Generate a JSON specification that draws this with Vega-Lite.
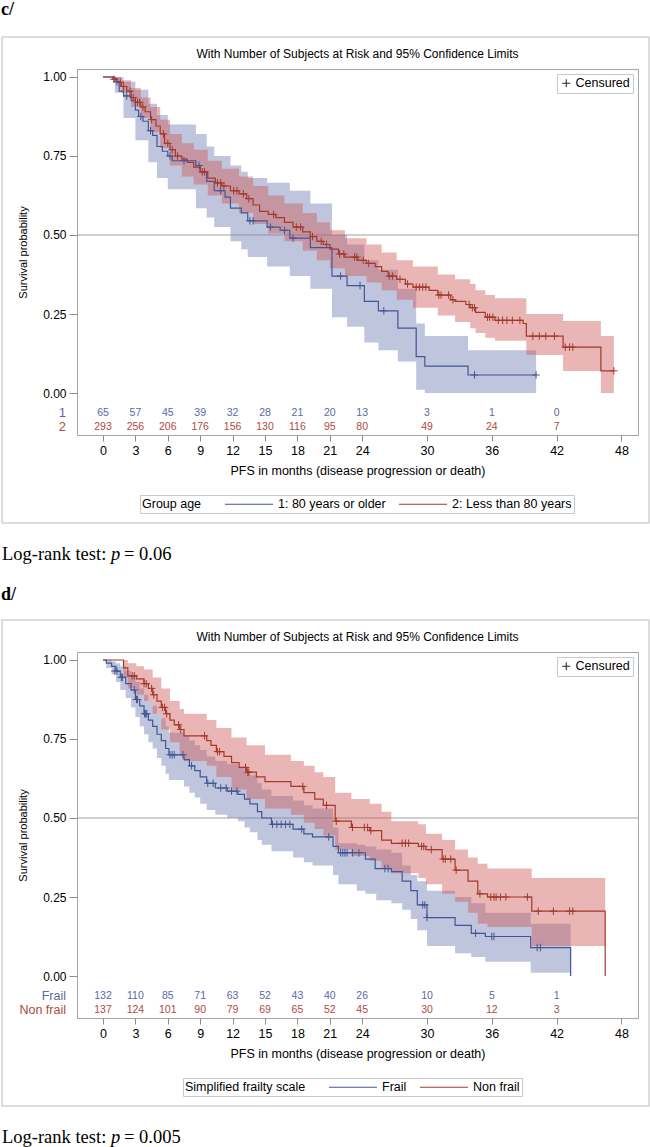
{
"$schema":"https://vega.github.io/schema/vega-lite/v6.json",
"padding":0,
"background":"white",
"config":{"font":"Liberation Sans","view":{"stroke":"#a6a6a6","strokeWidth":1},"axis":{"labelFont":"Liberation Sans","titleFont":"Liberation Sans"},"legend":{"labelFont":"Liberation Sans","titleFont":"Liberation Sans"}},
"spacing":20,
"resolve":{"scale":{"stroke":"independent","shape":"independent"},"legend":{"stroke":"independent","shape":"independent"}},
"datasets":{
"c_km":[
{"g":"1: 80 years or older","t":0,"s":1},{"g":"1: 80 years or older","t":1.1,"s":0.985},{"g":"1: 80 years or older","t":1.5,"s":0.955},{"g":"1: 80 years or older","t":1.9,"s":0.94},{"g":"1: 80 years or older","t":2.6,"s":0.925},{"g":"1: 80 years or older","t":3.0,"s":0.895},{"g":"1: 80 years or older","t":3.3,"s":0.875},{"g":"1: 80 years or older","t":3.7,"s":0.86},{"g":"1: 80 years or older","t":4.2,"s":0.83},{"g":"1: 80 years or older","t":4.6,"s":0.815},{"g":"1: 80 years or older","t":5.0,"s":0.78},{"g":"1: 80 years or older","t":5.5,"s":0.765},{"g":"1: 80 years or older","t":6.0,"s":0.75},{"g":"1: 80 years or older","t":6.4,"s":0.735},{"g":"1: 80 years or older","t":8.6,"s":0.72},{"g":"1: 80 years or older","t":9.0,"s":0.70},{"g":"1: 80 years or older","t":9.6,"s":0.67},{"g":"1: 80 years or older","t":10.3,"s":0.64},{"g":"1: 80 years or older","t":11.3,"s":0.62},{"g":"1: 80 years or older","t":11.8,"s":0.585},{"g":"1: 80 years or older","t":12.8,"s":0.57},{"g":"1: 80 years or older","t":13.4,"s":0.545},{"g":"1: 80 years or older","t":15.2,"s":0.525},{"g":"1: 80 years or older","t":16.4,"s":0.515},{"g":"1: 80 years or older","t":17.3,"s":0.49},{"g":"1: 80 years or older","t":19.2,"s":0.46},{"g":"1: 80 years or older","t":21.2,"s":0.37},{"g":"1: 80 years or older","t":22.6,"s":0.34},{"g":"1: 80 years or older","t":24.2,"s":0.29},{"g":"1: 80 years or older","t":25.5,"s":0.26},{"g":"1: 80 years or older","t":27.3,"s":0.205},{"g":"1: 80 years or older","t":29.0,"s":0.115},{"g":"1: 80 years or older","t":29.8,"s":0.085},{"g":"1: 80 years or older","t":33.8,"s":0.057},{"g":"1: 80 years or older","t":40.1,"s":0.057},
{"g":"2: Less than 80 years","t":0,"s":1},{"g":"2: Less than 80 years","t":0.9,"s":0.993},{"g":"2: Less than 80 years","t":1.3,"s":0.983},{"g":"2: Less than 80 years","t":1.7,"s":0.97},{"g":"2: Less than 80 years","t":2.2,"s":0.955},{"g":"2: Less than 80 years","t":2.6,"s":0.935},{"g":"2: Less than 80 years","t":3.0,"s":0.92},{"g":"2: Less than 80 years","t":3.5,"s":0.905},{"g":"2: Less than 80 years","t":3.9,"s":0.89},{"g":"2: Less than 80 years","t":4.4,"s":0.865},{"g":"2: Less than 80 years","t":4.9,"s":0.845},{"g":"2: Less than 80 years","t":5.3,"s":0.82},{"g":"2: Less than 80 years","t":5.7,"s":0.79},{"g":"2: Less than 80 years","t":6.2,"s":0.77},{"g":"2: Less than 80 years","t":6.7,"s":0.75},{"g":"2: Less than 80 years","t":7.3,"s":0.74},{"g":"2: Less than 80 years","t":7.8,"s":0.73},{"g":"2: Less than 80 years","t":8.4,"s":0.715},{"g":"2: Less than 80 years","t":9.0,"s":0.70},{"g":"2: Less than 80 years","t":9.7,"s":0.68},{"g":"2: Less than 80 years","t":10.4,"s":0.665},{"g":"2: Less than 80 years","t":11.0,"s":0.655},{"g":"2: Less than 80 years","t":11.8,"s":0.64},{"g":"2: Less than 80 years","t":12.6,"s":0.63},{"g":"2: Less than 80 years","t":13.3,"s":0.615},{"g":"2: Less than 80 years","t":13.9,"s":0.595},{"g":"2: Less than 80 years","t":14.5,"s":0.575},{"g":"2: Less than 80 years","t":15.3,"s":0.565},{"g":"2: Less than 80 years","t":16.0,"s":0.555},{"g":"2: Less than 80 years","t":16.8,"s":0.54},{"g":"2: Less than 80 years","t":17.6,"s":0.525},{"g":"2: Less than 80 years","t":18.5,"s":0.51},{"g":"2: Less than 80 years","t":19.2,"s":0.495},{"g":"2: Less than 80 years","t":19.8,"s":0.48},{"g":"2: Less than 80 years","t":20.4,"s":0.47},{"g":"2: Less than 80 years","t":21.0,"s":0.455},{"g":"2: Less than 80 years","t":21.8,"s":0.44},{"g":"2: Less than 80 years","t":22.4,"s":0.43},{"g":"2: Less than 80 years","t":23.6,"s":0.42},{"g":"2: Less than 80 years","t":24.4,"s":0.41},{"g":"2: Less than 80 years","t":25.2,"s":0.40},{"g":"2: Less than 80 years","t":25.8,"s":0.385},{"g":"2: Less than 80 years","t":26.4,"s":0.37},{"g":"2: Less than 80 years","t":27.2,"s":0.36},{"g":"2: Less than 80 years","t":28.0,"s":0.345},{"g":"2: Less than 80 years","t":28.7,"s":0.335},{"g":"2: Less than 80 years","t":30.2,"s":0.325},{"g":"2: Less than 80 years","t":31.0,"s":0.31},{"g":"2: Less than 80 years","t":32.2,"s":0.295},{"g":"2: Less than 80 years","t":32.6,"s":0.29},{"g":"2: Less than 80 years","t":33.6,"s":0.28},{"g":"2: Less than 80 years","t":34.0,"s":0.27},{"g":"2: Less than 80 years","t":34.5,"s":0.255},{"g":"2: Less than 80 years","t":35.4,"s":0.24},{"g":"2: Less than 80 years","t":36.3,"s":0.23},{"g":"2: Less than 80 years","t":38.9,"s":0.22},{"g":"2: Less than 80 years","t":39.2,"s":0.18},{"g":"2: Less than 80 years","t":42.6,"s":0.145},{"g":"2: Less than 80 years","t":46.1,"s":0.07},{"g":"2: Less than 80 years","t":47.3,"s":0.07}
],
"c_band":[
{"g":"1: 80 years or older","t":0,"lo":1,"hi":1},{"g":"1: 80 years or older","t":1.1,"lo":0.95,"hi":1},{"g":"1: 80 years or older","t":1.9,"lo":0.87,"hi":0.985},{"g":"1: 80 years or older","t":3.0,"lo":0.80,"hi":0.96},{"g":"1: 80 years or older","t":4.2,"lo":0.73,"hi":0.915},{"g":"1: 80 years or older","t":5.0,"lo":0.68,"hi":0.88},{"g":"1: 80 years or older","t":6.0,"lo":0.645,"hi":0.85},{"g":"1: 80 years or older","t":8.6,"lo":0.585,"hi":0.82},{"g":"1: 80 years or older","t":9.6,"lo":0.555,"hi":0.78},{"g":"1: 80 years or older","t":10.3,"lo":0.525,"hi":0.75},{"g":"1: 80 years or older","t":11.8,"lo":0.48,"hi":0.72},{"g":"1: 80 years or older","t":12.8,"lo":0.455,"hi":0.70},{"g":"1: 80 years or older","t":13.4,"lo":0.43,"hi":0.68},{"g":"1: 80 years or older","t":15.2,"lo":0.40,"hi":0.665},{"g":"1: 80 years or older","t":17.3,"lo":0.37,"hi":0.64},{"g":"1: 80 years or older","t":19.2,"lo":0.33,"hi":0.60},{"g":"1: 80 years or older","t":21.2,"lo":0.24,"hi":0.50},{"g":"1: 80 years or older","t":22.6,"lo":0.21,"hi":0.47},{"g":"1: 80 years or older","t":24.2,"lo":0.16,"hi":0.42},{"g":"1: 80 years or older","t":25.5,"lo":0.135,"hi":0.39},{"g":"1: 80 years or older","t":27.3,"lo":0.10,"hi":0.33},{"g":"1: 80 years or older","t":29.0,"lo":0.01,"hi":0.22},{"g":"1: 80 years or older","t":29.8,"lo":0,"hi":0.18},{"g":"1: 80 years or older","t":33.8,"lo":0,"hi":0.135},{"g":"1: 80 years or older","t":40.1,"lo":0,"hi":0.135},
{"g":"2: Less than 80 years","t":0,"lo":1,"hi":1},{"g":"2: Less than 80 years","t":1.0,"lo":0.985,"hi":1},{"g":"2: Less than 80 years","t":1.7,"lo":0.95,"hi":0.99},{"g":"2: Less than 80 years","t":2.6,"lo":0.905,"hi":0.965},{"g":"2: Less than 80 years","t":3.5,"lo":0.87,"hi":0.935},{"g":"2: Less than 80 years","t":4.4,"lo":0.825,"hi":0.905},{"g":"2: Less than 80 years","t":5.3,"lo":0.775,"hi":0.865},{"g":"2: Less than 80 years","t":6.2,"lo":0.72,"hi":0.82},{"g":"2: Less than 80 years","t":7.3,"lo":0.685,"hi":0.79},{"g":"2: Less than 80 years","t":8.4,"lo":0.66,"hi":0.77},{"g":"2: Less than 80 years","t":9.7,"lo":0.625,"hi":0.735},{"g":"2: Less than 80 years","t":11.0,"lo":0.60,"hi":0.71},{"g":"2: Less than 80 years","t":12.6,"lo":0.57,"hi":0.685},{"g":"2: Less than 80 years","t":13.9,"lo":0.535,"hi":0.655},{"g":"2: Less than 80 years","t":15.3,"lo":0.505,"hi":0.625},{"g":"2: Less than 80 years","t":16.8,"lo":0.48,"hi":0.60},{"g":"2: Less than 80 years","t":18.5,"lo":0.45,"hi":0.57},{"g":"2: Less than 80 years","t":19.8,"lo":0.42,"hi":0.54},{"g":"2: Less than 80 years","t":21.0,"lo":0.395,"hi":0.515},{"g":"2: Less than 80 years","t":22.4,"lo":0.37,"hi":0.49},{"g":"2: Less than 80 years","t":24.4,"lo":0.35,"hi":0.47},{"g":"2: Less than 80 years","t":25.8,"lo":0.325,"hi":0.445},{"g":"2: Less than 80 years","t":27.2,"lo":0.295,"hi":0.42},{"g":"2: Less than 80 years","t":28.7,"lo":0.27,"hi":0.40},{"g":"2: Less than 80 years","t":31.0,"lo":0.245,"hi":0.375},{"g":"2: Less than 80 years","t":32.6,"lo":0.225,"hi":0.36},{"g":"2: Less than 80 years","t":34.0,"lo":0.205,"hi":0.345},{"g":"2: Less than 80 years","t":34.5,"lo":0.19,"hi":0.325},{"g":"2: Less than 80 years","t":35.4,"lo":0.175,"hi":0.31},{"g":"2: Less than 80 years","t":36.3,"lo":0.165,"hi":0.30},{"g":"2: Less than 80 years","t":39.2,"lo":0.12,"hi":0.25},{"g":"2: Less than 80 years","t":42.6,"lo":0.07,"hi":0.228},{"g":"2: Less than 80 years","t":46.1,"lo":0,"hi":0.18},{"g":"2: Less than 80 years","t":47.3,"lo":0,"hi":0.18}
],
"c_cens":[
{"g":"1: 80 years or older","t":1.3,"s":0.985},{"g":"1: 80 years or older","t":2.2,"s":0.94},{"g":"1: 80 years or older","t":3.5,"s":0.875},{"g":"1: 80 years or older","t":4.4,"s":0.83},{"g":"1: 80 years or older","t":6.2,"s":0.75},{"g":"1: 80 years or older","t":7.5,"s":0.735},{"g":"1: 80 years or older","t":8.9,"s":0.72},{"g":"1: 80 years or older","t":10.9,"s":0.64},{"g":"1: 80 years or older","t":13.6,"s":0.545},{"g":"1: 80 years or older","t":13.9,"s":0.545},{"g":"1: 80 years or older","t":15.5,"s":0.525},{"g":"1: 80 years or older","t":16.8,"s":0.515},{"g":"1: 80 years or older","t":17.6,"s":0.49},{"g":"1: 80 years or older","t":22.0,"s":0.37},{"g":"1: 80 years or older","t":23.8,"s":0.34},{"g":"1: 80 years or older","t":26.0,"s":0.26},{"g":"1: 80 years or older","t":34.4,"s":0.057},{"g":"1: 80 years or older","t":40.1,"s":0.057},
{"g":"2: Less than 80 years","t":1.0,"s":0.993},{"g":"2: Less than 80 years","t":1.6,"s":0.983},{"g":"2: Less than 80 years","t":1.9,"s":0.97},{"g":"2: Less than 80 years","t":2.5,"s":0.955},{"g":"2: Less than 80 years","t":2.8,"s":0.935},{"g":"2: Less than 80 years","t":3.2,"s":0.92},{"g":"2: Less than 80 years","t":3.4,"s":0.92},{"g":"2: Less than 80 years","t":3.7,"s":0.905},{"g":"2: Less than 80 years","t":4.5,"s":0.865},{"g":"2: Less than 80 years","t":5.6,"s":0.82},{"g":"2: Less than 80 years","t":6.0,"s":0.79},{"g":"2: Less than 80 years","t":6.4,"s":0.77},{"g":"2: Less than 80 years","t":6.9,"s":0.75},{"g":"2: Less than 80 years","t":9.2,"s":0.70},{"g":"2: Less than 80 years","t":9.4,"s":0.70},{"g":"2: Less than 80 years","t":10.6,"s":0.665},{"g":"2: Less than 80 years","t":10.9,"s":0.665},{"g":"2: Less than 80 years","t":11.2,"s":0.655},{"g":"2: Less than 80 years","t":12.1,"s":0.64},{"g":"2: Less than 80 years","t":12.4,"s":0.64},{"g":"2: Less than 80 years","t":13.0,"s":0.63},{"g":"2: Less than 80 years","t":13.5,"s":0.615},{"g":"2: Less than 80 years","t":15.8,"s":0.565},{"g":"2: Less than 80 years","t":17.9,"s":0.525},{"g":"2: Less than 80 years","t":18.3,"s":0.525},{"g":"2: Less than 80 years","t":19.4,"s":0.495},{"g":"2: Less than 80 years","t":20.2,"s":0.48},{"g":"2: Less than 80 years","t":20.7,"s":0.47},{"g":"2: Less than 80 years","t":21.9,"s":0.44},{"g":"2: Less than 80 years","t":22.3,"s":0.44},{"g":"2: Less than 80 years","t":23.3,"s":0.43},{"g":"2: Less than 80 years","t":23.5,"s":0.43},{"g":"2: Less than 80 years","t":24.1,"s":0.42},{"g":"2: Less than 80 years","t":24.6,"s":0.41},{"g":"2: Less than 80 years","t":26.5,"s":0.37},{"g":"2: Less than 80 years","t":26.8,"s":0.37},{"g":"2: Less than 80 years","t":27.5,"s":0.36},{"g":"2: Less than 80 years","t":28.2,"s":0.345},{"g":"2: Less than 80 years","t":29.0,"s":0.335},{"g":"2: Less than 80 years","t":29.3,"s":0.335},{"g":"2: Less than 80 years","t":29.6,"s":0.335},{"g":"2: Less than 80 years","t":29.9,"s":0.335},{"g":"2: Less than 80 years","t":31.1,"s":0.31},{"g":"2: Less than 80 years","t":31.3,"s":0.31},{"g":"2: Less than 80 years","t":32.0,"s":0.31},{"g":"2: Less than 80 years","t":32.4,"s":0.295},{"g":"2: Less than 80 years","t":33.9,"s":0.28},{"g":"2: Less than 80 years","t":34.2,"s":0.27},{"g":"2: Less than 80 years","t":34.4,"s":0.27},{"g":"2: Less than 80 years","t":35.6,"s":0.24},{"g":"2: Less than 80 years","t":35.8,"s":0.24},{"g":"2: Less than 80 years","t":36.1,"s":0.24},{"g":"2: Less than 80 years","t":36.6,"s":0.23},{"g":"2: Less than 80 years","t":37.0,"s":0.23},{"g":"2: Less than 80 years","t":37.4,"s":0.23},{"g":"2: Less than 80 years","t":37.9,"s":0.23},{"g":"2: Less than 80 years","t":38.6,"s":0.23},{"g":"2: Less than 80 years","t":39.8,"s":0.18},{"g":"2: Less than 80 years","t":40.4,"s":0.18},{"g":"2: Less than 80 years","t":41.0,"s":0.18},{"g":"2: Less than 80 years","t":41.8,"s":0.18},{"g":"2: Less than 80 years","t":42.8,"s":0.145},{"g":"2: Less than 80 years","t":43.2,"s":0.145},{"g":"2: Less than 80 years","t":43.5,"s":0.145},{"g":"2: Less than 80 years","t":47.3,"s":0.07}
],
"c_risk":[
{"g":"1: 80 years or older","t":0,"n":65},{"g":"1: 80 years or older","t":3,"n":57},{"g":"1: 80 years or older","t":6,"n":45},{"g":"1: 80 years or older","t":9,"n":39},{"g":"1: 80 years or older","t":12,"n":32},{"g":"1: 80 years or older","t":15,"n":28},{"g":"1: 80 years or older","t":18,"n":21},{"g":"1: 80 years or older","t":21,"n":20},{"g":"1: 80 years or older","t":24,"n":13},{"g":"1: 80 years or older","t":30,"n":3},{"g":"1: 80 years or older","t":36,"n":1},{"g":"1: 80 years or older","t":42,"n":0},
{"g":"2: Less than 80 years","t":0,"n":293},{"g":"2: Less than 80 years","t":3,"n":256},{"g":"2: Less than 80 years","t":6,"n":206},{"g":"2: Less than 80 years","t":9,"n":176},{"g":"2: Less than 80 years","t":12,"n":156},{"g":"2: Less than 80 years","t":15,"n":130},{"g":"2: Less than 80 years","t":18,"n":116},{"g":"2: Less than 80 years","t":21,"n":95},{"g":"2: Less than 80 years","t":24,"n":80},{"g":"2: Less than 80 years","t":30,"n":49},{"g":"2: Less than 80 years","t":36,"n":24},{"g":"2: Less than 80 years","t":42,"n":7}
],
"d_km":[
{"g":"Frail","t":0,"s":1},{"g":"Frail","t":0.3,"s":0.99},{"g":"Frail","t":0.8,"s":0.98},{"g":"Frail","t":1.2,"s":0.965},{"g":"Frail","t":1.6,"s":0.945},{"g":"Frail","t":2.1,"s":0.925},{"g":"Frail","t":2.6,"s":0.905},{"g":"Frail","t":3.0,"s":0.875},{"g":"Frail","t":3.4,"s":0.855},{"g":"Frail","t":3.8,"s":0.83},{"g":"Frail","t":4.2,"s":0.81},{"g":"Frail","t":4.6,"s":0.79},{"g":"Frail","t":5.0,"s":0.765},{"g":"Frail","t":5.4,"s":0.745},{"g":"Frail","t":5.8,"s":0.72},{"g":"Frail","t":6.1,"s":0.70},{"g":"Frail","t":7.5,"s":0.685},{"g":"Frail","t":8.0,"s":0.665},{"g":"Frail","t":8.5,"s":0.65},{"g":"Frail","t":9.0,"s":0.63},{"g":"Frail","t":9.6,"s":0.61},{"g":"Frail","t":10.4,"s":0.595},{"g":"Frail","t":11.5,"s":0.585},{"g":"Frail","t":12.5,"s":0.575},{"g":"Frail","t":13.1,"s":0.56},{"g":"Frail","t":13.6,"s":0.545},{"g":"Frail","t":14.3,"s":0.52},{"g":"Frail","t":14.7,"s":0.50},{"g":"Frail","t":15.6,"s":0.48},{"g":"Frail","t":17.6,"s":0.465},{"g":"Frail","t":18.6,"s":0.45},{"g":"Frail","t":19.4,"s":0.44},{"g":"Frail","t":21.3,"s":0.41},{"g":"Frail","t":21.8,"s":0.39},{"g":"Frail","t":24.3,"s":0.37},{"g":"Frail","t":25.2,"s":0.34},{"g":"Frail","t":26.7,"s":0.33},{"g":"Frail","t":27.7,"s":0.30},{"g":"Frail","t":28.5,"s":0.27},{"g":"Frail","t":29.1,"s":0.225},{"g":"Frail","t":30.0,"s":0.185},{"g":"Frail","t":32.6,"s":0.16},{"g":"Frail","t":34.1,"s":0.135},{"g":"Frail","t":35.4,"s":0.125},{"g":"Frail","t":39.6,"s":0.09},{"g":"Frail","t":43.3,"s":0},
{"g":"Non frail","t":0,"s":1},{"g":"Non frail","t":1.9,"s":0.975},{"g":"Non frail","t":2.3,"s":0.95},{"g":"Non frail","t":3.1,"s":0.94},{"g":"Non frail","t":3.8,"s":0.925},{"g":"Non frail","t":4.2,"s":0.91},{"g":"Non frail","t":4.6,"s":0.89},{"g":"Non frail","t":5.0,"s":0.87},{"g":"Non frail","t":5.4,"s":0.85},{"g":"Non frail","t":5.8,"s":0.83},{"g":"Non frail","t":6.2,"s":0.81},{"g":"Non frail","t":6.6,"s":0.795},{"g":"Non frail","t":7.1,"s":0.78},{"g":"Non frail","t":7.5,"s":0.76},{"g":"Non frail","t":9.6,"s":0.745},{"g":"Non frail","t":10.0,"s":0.73},{"g":"Non frail","t":10.5,"s":0.71},{"g":"Non frail","t":11.2,"s":0.695},{"g":"Non frail","t":11.9,"s":0.675},{"g":"Non frail","t":12.6,"s":0.66},{"g":"Non frail","t":13.3,"s":0.645},{"g":"Non frail","t":14.2,"s":0.63},{"g":"Non frail","t":15.0,"s":0.615},{"g":"Non frail","t":17.4,"s":0.60},{"g":"Non frail","t":18.6,"s":0.58},{"g":"Non frail","t":19.6,"s":0.56},{"g":"Non frail","t":20.4,"s":0.54},{"g":"Non frail","t":21.5,"s":0.49},{"g":"Non frail","t":23.0,"s":0.47},{"g":"Non frail","t":24.7,"s":0.46},{"g":"Non frail","t":25.8,"s":0.43},{"g":"Non frail","t":26.7,"s":0.42},{"g":"Non frail","t":29.2,"s":0.41},{"g":"Non frail","t":29.9,"s":0.40},{"g":"Non frail","t":31.4,"s":0.37},{"g":"Non frail","t":32.6,"s":0.335},{"g":"Non frail","t":33.8,"s":0.30},{"g":"Non frail","t":34.7,"s":0.26},{"g":"Non frail","t":35.6,"s":0.25},{"g":"Non frail","t":39.7,"s":0.205},{"g":"Non frail","t":46.5,"s":0}
],
"d_band":[
{"g":"Frail","t":0,"lo":1,"hi":1},{"g":"Frail","t":0.3,"lo":0.975,"hi":1},{"g":"Frail","t":0.8,"lo":0.955,"hi":0.995},{"g":"Frail","t":1.2,"lo":0.93,"hi":0.99},{"g":"Frail","t":1.6,"lo":0.905,"hi":0.98},{"g":"Frail","t":2.1,"lo":0.88,"hi":0.965},{"g":"Frail","t":2.6,"lo":0.85,"hi":0.95},{"g":"Frail","t":3.0,"lo":0.82,"hi":0.93},{"g":"Frail","t":3.4,"lo":0.79,"hi":0.91},{"g":"Frail","t":3.8,"lo":0.765,"hi":0.89},{"g":"Frail","t":4.2,"lo":0.74,"hi":0.87},{"g":"Frail","t":4.6,"lo":0.72,"hi":0.855},{"g":"Frail","t":5.0,"lo":0.69,"hi":0.83},{"g":"Frail","t":5.4,"lo":0.665,"hi":0.815},{"g":"Frail","t":5.8,"lo":0.64,"hi":0.79},{"g":"Frail","t":6.1,"lo":0.62,"hi":0.77},{"g":"Frail","t":7.5,"lo":0.60,"hi":0.76},{"g":"Frail","t":8.0,"lo":0.58,"hi":0.745},{"g":"Frail","t":8.5,"lo":0.565,"hi":0.73},{"g":"Frail","t":9.0,"lo":0.545,"hi":0.715},{"g":"Frail","t":9.6,"lo":0.525,"hi":0.695},{"g":"Frail","t":10.4,"lo":0.51,"hi":0.68},{"g":"Frail","t":11.5,"lo":0.50,"hi":0.67},{"g":"Frail","t":12.5,"lo":0.49,"hi":0.66},{"g":"Frail","t":13.1,"lo":0.47,"hi":0.645},{"g":"Frail","t":13.6,"lo":0.455,"hi":0.635},{"g":"Frail","t":14.3,"lo":0.43,"hi":0.61},{"g":"Frail","t":14.7,"lo":0.415,"hi":0.59},{"g":"Frail","t":15.6,"lo":0.395,"hi":0.57},{"g":"Frail","t":17.6,"lo":0.375,"hi":0.555},{"g":"Frail","t":18.6,"lo":0.36,"hi":0.54},{"g":"Frail","t":19.4,"lo":0.35,"hi":0.53},{"g":"Frail","t":21.3,"lo":0.32,"hi":0.47},{"g":"Frail","t":21.8,"lo":0.29,"hi":0.42},{"g":"Frail","t":23.5,"lo":0.27,"hi":0.415},{"g":"Frail","t":24.3,"lo":0.26,"hi":0.41},{"g":"Frail","t":25.3,"lo":0.24,"hi":0.40},{"g":"Frail","t":26.7,"lo":0.23,"hi":0.39},{"g":"Frail","t":27.7,"lo":0.21,"hi":0.35},{"g":"Frail","t":28.5,"lo":0.18,"hi":0.32},{"g":"Frail","t":29.1,"lo":0.145,"hi":0.30},{"g":"Frail","t":30.0,"lo":0.095,"hi":0.27},{"g":"Frail","t":32.6,"lo":0.072,"hi":0.25},{"g":"Frail","t":34.1,"lo":0.06,"hi":0.23},{"g":"Frail","t":35.4,"lo":0.045,"hi":0.20},{"g":"Frail","t":39.6,"lo":0.01,"hi":0.165},{"g":"Frail","t":43.3,"lo":0.01,"hi":0.165},
{"g":"Non frail","t":0,"lo":1,"hi":1},{"g":"Non frail","t":1.9,"lo":0.945,"hi":1},{"g":"Non frail","t":2.3,"lo":0.91,"hi":0.99},{"g":"Non frail","t":3.1,"lo":0.89,"hi":0.98},{"g":"Non frail","t":3.8,"lo":0.87,"hi":0.97},{"g":"Non frail","t":4.6,"lo":0.83,"hi":0.945},{"g":"Non frail","t":5.4,"lo":0.78,"hi":0.91},{"g":"Non frail","t":6.2,"lo":0.74,"hi":0.87},{"g":"Non frail","t":7.1,"lo":0.70,"hi":0.845},{"g":"Non frail","t":7.5,"lo":0.68,"hi":0.83},{"g":"Non frail","t":9.6,"lo":0.665,"hi":0.81},{"g":"Non frail","t":10.5,"lo":0.63,"hi":0.785},{"g":"Non frail","t":11.9,"lo":0.59,"hi":0.755},{"g":"Non frail","t":13.3,"lo":0.56,"hi":0.73},{"g":"Non frail","t":15.0,"lo":0.53,"hi":0.70},{"g":"Non frail","t":17.4,"lo":0.51,"hi":0.68},{"g":"Non frail","t":18.6,"lo":0.485,"hi":0.665},{"g":"Non frail","t":19.6,"lo":0.465,"hi":0.645},{"g":"Non frail","t":20.4,"lo":0.445,"hi":0.63},{"g":"Non frail","t":21.5,"lo":0.40,"hi":0.58},{"g":"Non frail","t":23.0,"lo":0.38,"hi":0.56},{"g":"Non frail","t":24.7,"lo":0.365,"hi":0.545},{"g":"Non frail","t":25.8,"lo":0.34,"hi":0.52},{"g":"Non frail","t":26.7,"lo":0.325,"hi":0.49},{"g":"Non frail","t":29.2,"lo":0.31,"hi":0.48},{"g":"Non frail","t":29.9,"lo":0.29,"hi":0.45},{"g":"Non frail","t":31.4,"lo":0.26,"hi":0.43},{"g":"Non frail","t":32.6,"lo":0.235,"hi":0.40},{"g":"Non frail","t":33.8,"lo":0.20,"hi":0.375},{"g":"Non frail","t":34.7,"lo":0.165,"hi":0.355},{"g":"Non frail","t":35.6,"lo":0.155,"hi":0.34},{"g":"Non frail","t":39.7,"lo":0.095,"hi":0.31},{"g":"Non frail","t":46.5,"lo":0.095,"hi":0.31}
],
"d_cens":[
{"g":"Frail","t":1.1,"s":0.965},{"g":"Frail","t":1.3,"s":0.965},{"g":"Frail","t":1.7,"s":0.945},{"g":"Frail","t":1.8,"s":0.945},{"g":"Frail","t":2.9,"s":0.905},{"g":"Frail","t":3.1,"s":0.875},{"g":"Frail","t":3.2,"s":0.875},{"g":"Frail","t":3.85,"s":0.83},{"g":"Frail","t":3.95,"s":0.83},{"g":"Frail","t":4.05,"s":0.83},{"g":"Frail","t":6.2,"s":0.70},{"g":"Frail","t":6.4,"s":0.70},{"g":"Frail","t":6.6,"s":0.70},{"g":"Frail","t":7.4,"s":0.70},{"g":"Frail","t":8.2,"s":0.665},{"g":"Frail","t":9.7,"s":0.61},{"g":"Frail","t":10.2,"s":0.61},{"g":"Frail","t":10.9,"s":0.595},{"g":"Frail","t":11.4,"s":0.595},{"g":"Frail","t":11.9,"s":0.585},{"g":"Frail","t":12.4,"s":0.585},{"g":"Frail","t":15.7,"s":0.48},{"g":"Frail","t":16.1,"s":0.48},{"g":"Frail","t":16.5,"s":0.48},{"g":"Frail","t":16.9,"s":0.48},{"g":"Frail","t":17.3,"s":0.48},{"g":"Frail","t":18.4,"s":0.465},{"g":"Frail","t":20.9,"s":0.44},{"g":"Frail","t":22.0,"s":0.39},{"g":"Frail","t":22.2,"s":0.39},{"g":"Frail","t":22.4,"s":0.39},{"g":"Frail","t":22.6,"s":0.39},{"g":"Frail","t":23.1,"s":0.39},{"g":"Frail","t":23.7,"s":0.39},{"g":"Frail","t":26.1,"s":0.34},{"g":"Frail","t":26.4,"s":0.34},{"g":"Frail","t":29.6,"s":0.225},{"g":"Frail","t":29.8,"s":0.225},{"g":"Frail","t":30.0,"s":0.185},{"g":"Frail","t":34.5,"s":0.135},{"g":"Frail","t":36.0,"s":0.125},{"g":"Frail","t":36.2,"s":0.125},{"g":"Frail","t":40.2,"s":0.09},{"g":"Frail","t":40.5,"s":0.09},
{"g":"Non frail","t":2.7,"s":0.95},{"g":"Non frail","t":2.9,"s":0.95},{"g":"Non frail","t":3.8,"s":0.925},{"g":"Non frail","t":4.0,"s":0.925},{"g":"Non frail","t":4.5,"s":0.91},{"g":"Non frail","t":4.7,"s":0.89},{"g":"Non frail","t":5.5,"s":0.85},{"g":"Non frail","t":5.7,"s":0.85},{"g":"Non frail","t":5.9,"s":0.83},{"g":"Non frail","t":7.0,"s":0.795},{"g":"Non frail","t":7.2,"s":0.78},{"g":"Non frail","t":9.4,"s":0.76},{"g":"Non frail","t":10.6,"s":0.71},{"g":"Non frail","t":10.8,"s":0.71},{"g":"Non frail","t":13.2,"s":0.66},{"g":"Non frail","t":13.4,"s":0.645},{"g":"Non frail","t":13.5,"s":0.645},{"g":"Non frail","t":18.5,"s":0.60},{"g":"Non frail","t":20.7,"s":0.54},{"g":"Non frail","t":21.6,"s":0.49},{"g":"Non frail","t":23.1,"s":0.47},{"g":"Non frail","t":24.2,"s":0.47},{"g":"Non frail","t":24.5,"s":0.47},{"g":"Non frail","t":24.8,"s":0.46},{"g":"Non frail","t":27.7,"s":0.42},{"g":"Non frail","t":28.0,"s":0.42},{"g":"Non frail","t":28.3,"s":0.42},{"g":"Non frail","t":29.5,"s":0.41},{"g":"Non frail","t":29.7,"s":0.41},{"g":"Non frail","t":30.4,"s":0.40},{"g":"Non frail","t":31.5,"s":0.37},{"g":"Non frail","t":31.7,"s":0.37},{"g":"Non frail","t":32.2,"s":0.37},{"g":"Non frail","t":32.7,"s":0.335},{"g":"Non frail","t":34.9,"s":0.26},{"g":"Non frail","t":35.9,"s":0.25},{"g":"Non frail","t":36.2,"s":0.25},{"g":"Non frail","t":36.4,"s":0.25},{"g":"Non frail","t":36.8,"s":0.25},{"g":"Non frail","t":37.3,"s":0.25},{"g":"Non frail","t":39.3,"s":0.25},{"g":"Non frail","t":40.3,"s":0.205},{"g":"Non frail","t":41.7,"s":0.205},{"g":"Non frail","t":43.2,"s":0.205},{"g":"Non frail","t":43.5,"s":0.205}
],
"d_risk":[
{"g":"Frail","t":0,"n":132},{"g":"Frail","t":3,"n":110},{"g":"Frail","t":6,"n":85},{"g":"Frail","t":9,"n":71},{"g":"Frail","t":12,"n":63},{"g":"Frail","t":15,"n":52},{"g":"Frail","t":18,"n":43},{"g":"Frail","t":21,"n":40},{"g":"Frail","t":24,"n":26},{"g":"Frail","t":30,"n":10},{"g":"Frail","t":36,"n":5},{"g":"Frail","t":42,"n":1},
{"g":"Non frail","t":0,"n":137},{"g":"Non frail","t":3,"n":124},{"g":"Non frail","t":6,"n":101},{"g":"Non frail","t":9,"n":90},{"g":"Non frail","t":12,"n":79},{"g":"Non frail","t":15,"n":69},{"g":"Non frail","t":18,"n":65},{"g":"Non frail","t":21,"n":52},{"g":"Non frail","t":24,"n":45},{"g":"Non frail","t":30,"n":30},{"g":"Non frail","t":36,"n":12},{"g":"Non frail","t":42,"n":3}
]
},
"vconcat":[
{
"width":561,"height":366,
"layer":[
{"data":{"values":[{}]},"mark":{"type":"rect","fill":"transparent","stroke":"#d2d2d2","strokeWidth":1.5},"encoding":{"x":{"datum":-9.35,"type":"quantitative","scale":{"domain":[-2.407,49.537],"nice":false,"zero":false}},"x2":{"datum":50.56},"y":{"datum":1.1266,"type":"quantitative","scale":{"domain":[-0.1329,1.0253],"nice":false,"zero":false}},"y2":{"datum":-0.411}}},
{"data":{"values":[{}]},"mark":{"type":"text","text":"c/","font":"Liberation Serif","fontWeight":"bold","fontSize":18,"align":"left","baseline":"alphabetic","color":"#000"},"encoding":{"x":{"datum":-9.444,"type":"quantitative"},"y":{"datum":1.196,"type":"quantitative"}}},
{"data":{"values":[{}]},"mark":{"type":"text","text":"With Number of Subjects at Risk and 95% Confidence Limits","fontSize":12,"align":"center","baseline":"middle","color":"#000"},"encoding":{"x":{"datum":23.565,"type":"quantitative"},"y":{"datum":1.0728,"type":"quantitative"}}},
{"data":{"values":[{}]},"mark":{"type":"rule","color":"#a0a0a0","strokeWidth":1},"encoding":{"y":{"datum":0.5,"type":"quantitative"}}},
{"data":{"name":"c_band"},"transform":[{"filter":"datum.g == '1: 80 years or older'"}],"mark":{"type":"area","interpolate":"step-after","fill":"#6F7EB3","fillOpacity":0.45},"encoding":{"x":{"field":"t","type":"quantitative"},"y":{"field":"lo","type":"quantitative"},"y2":{"field":"hi"}}},
{"data":{"name":"c_band"},"transform":[{"filter":"datum.g == '2: Less than 80 years'"}],"mark":{"type":"area","interpolate":"step-after","fill":"#D05B5B","fillOpacity":0.45},"encoding":{"x":{"field":"t","type":"quantitative"},"y":{"field":"lo","type":"quantitative"},"y2":{"field":"hi"}}},
{"data":{"name":"c_km"},"mark":{"type":"line","interpolate":"step-after","strokeWidth":1.2},"encoding":{
"x":{"field":"t","type":"quantitative","axis":{"values":[0,3,6,9,12,15,18,21,24,30,36,42,48],"title":"PFS in months (disease progression or death)","domain":false,"grid":false,"tickSize":6,"tickColor":"#8c8c8c","labelFontSize":12.5,"labelColor":"#000","labelPadding":3,"labelFlush":false,"labelOverlap":false,"titleFontSize":12.5,"titleFontWeight":"normal","titleColor":"#000","titlePadding":8}},
"y":{"field":"s","type":"quantitative","axis":{"values":[0,0.25,0.5,0.75,1],"format":".2f","title":"Survival probability","domain":false,"grid":false,"tickSize":8,"tickColor":"#8c8c8c","labelFontSize":12,"labelColor":"#000","labelPadding":3,"labelFlush":false,"labelOverlap":false,"titleFontSize":11,"titleFontWeight":"normal","titleColor":"#000","titlePadding":14}},
"stroke":{"field":"g","type":"nominal","scale":{"domain":["1: 80 years or older","2: Less than 80 years"],"range":["#445694","#A23A2E"]},"legend":{"orient":"none","legendX":63,"legendY":426,"direction":"horizontal","title":"Group age","titleOrient":"left","titleAnchor":"middle","titleBaseline":"middle","titleFontSize":12.5,"titleFontWeight":"normal","titleColor":"#000","titlePadding":40,"labelFontSize":12.5,"labelColor":"#000","labelOffset":22,"columnPadding":10,"symbolType":"M-4,0H4","symbolSize":144,"symbolStrokeWidth":1.2,"strokeColor":"#c8c8c8","padding":2,"labelLimit":400}}}},
{"data":{"name":"c_cens"},"transform":[{"filter":"datum.g == '1: 80 years or older'"},{"calculate":"'Censured'","as":"mk"}],"mark":{"type":"point","filled":false,"size":56,"strokeWidth":1,"opacity":1,"color":"#445694"},"encoding":{"x":{"field":"t","type":"quantitative"},"y":{"field":"s","type":"quantitative"},"shape":{"field":"mk","type":"nominal","scale":{"range":["M-1,0H1M0,-1V1"]},"legend":{"orient":"top-right","offset":5,"title":null,"symbolStrokeColor":"#222","symbolFillColor":"transparent","symbolStrokeWidth":1,"symbolSize":64,"labelFontSize":12.5,"labelColor":"#000","labelOffset":3,"strokeColor":"#c8c8c8","padding":3}}}},
{"data":{"name":"c_cens"},"transform":[{"filter":"datum.g == '2: Less than 80 years'"},{"calculate":"'Censured'","as":"mk"}],"mark":{"type":"point","filled":false,"size":56,"strokeWidth":1,"opacity":1,"color":"#A23A2E"},"encoding":{"x":{"field":"t","type":"quantitative"},"y":{"field":"s","type":"quantitative"},"shape":{"field":"mk","type":"nominal","scale":{"range":["M-1,0H1M0,-1V1"]},"legend":{"orient":"top-right","offset":5,"title":null,"symbolStrokeColor":"#222","symbolFillColor":"transparent","symbolStrokeWidth":1,"symbolSize":64,"labelFontSize":12.5,"labelColor":"#000","labelOffset":3,"strokeColor":"#c8c8c8","padding":3}}}},
{"data":{"name":"c_risk"},"transform":[{"filter":"datum.g == '1: 80 years or older'"}],"mark":{"type":"text","fontSize":10.5,"color":"#5a68a6","align":"center","baseline":"middle"},"encoding":{"x":{"field":"t","type":"quantitative"},"y":{"datum":-0.0633,"type":"quantitative"},"text":{"field":"n","type":"quantitative"}}},
{"data":{"name":"c_risk"},"transform":[{"filter":"datum.g == '2: Less than 80 years'"}],"mark":{"type":"text","fontSize":10.5,"color":"#b04a40","align":"center","baseline":"middle"},"encoding":{"x":{"field":"t","type":"quantitative"},"y":{"datum":-0.1076,"type":"quantitative"},"text":{"field":"n","type":"quantitative"}}},
{"data":{"values":[{}]},"mark":{"type":"text","text":"1","fontSize":13,"color":"#5a68a6","align":"right","baseline":"middle"},"encoding":{"x":{"datum":-3.43,"type":"quantitative"},"y":{"datum":-0.0633,"type":"quantitative"}}},
{"data":{"values":[{}]},"mark":{"type":"text","text":"2","fontSize":13,"color":"#b04a40","align":"right","baseline":"middle"},"encoding":{"x":{"datum":-3.43,"type":"quantitative"},"y":{"datum":-0.1076,"type":"quantitative"}}},
{"data":{"values":[{}]},"mark":{"type":"text","text":"Log-rank test:","font":"Liberation Serif","fontSize":18.5,"align":"left","baseline":"alphabetic","color":"#000"},"encoding":{"x":{"datum":-9.352,"type":"quantitative"},"y":{"datum":-0.5285,"type":"quantitative"}}},
{"data":{"values":[{}]},"mark":{"type":"text","text":"p","font":"Liberation Serif","fontStyle":"italic","fontSize":18.5,"align":"left","baseline":"alphabetic","color":"#000"},"encoding":{"x":{"datum":0.741,"type":"quantitative"},"y":{"datum":-0.5285,"type":"quantitative"}}},
{"data":{"values":[{}]},"mark":{"type":"text","text":"= 0.06","font":"Liberation Serif","fontSize":18.5,"align":"left","baseline":"alphabetic","color":"#000"},"encoding":{"x":{"datum":1.944,"type":"quantitative"},"y":{"datum":-0.5285,"type":"quantitative"}}}
]
},
{
"width":561,"height":366,
"layer":[
{"data":{"values":[{}]},"mark":{"type":"rect","fill":"transparent","stroke":"#d2d2d2","strokeWidth":1.5},"encoding":{"x":{"datum":-9.35,"type":"quantitative","scale":{"domain":[-2.407,49.537],"nice":false,"zero":false}},"x2":{"datum":50.56},"y":{"datum":1.1266,"type":"quantitative","scale":{"domain":[-0.1329,1.0253],"nice":false,"zero":false}},"y2":{"datum":-0.411}}},
{"data":{"values":[{}]},"mark":{"type":"text","text":"d/","font":"Liberation Serif","fontWeight":"bold","fontSize":18,"align":"left","baseline":"alphabetic","color":"#000"},"encoding":{"x":{"datum":-9.444,"type":"quantitative"},"y":{"datum":1.19,"type":"quantitative"}}},
{"data":{"values":[{}]},"mark":{"type":"text","text":"With Number of Subjects at Risk and 95% Confidence Limits","fontSize":12,"align":"center","baseline":"middle","color":"#000"},"encoding":{"x":{"datum":23.565,"type":"quantitative"},"y":{"datum":1.0728,"type":"quantitative"}}},
{"data":{"values":[{}]},"mark":{"type":"rule","color":"#a0a0a0","strokeWidth":1},"encoding":{"y":{"datum":0.5,"type":"quantitative"}}},
{"data":{"name":"d_band"},"transform":[{"filter":"datum.g == 'Frail'"}],"mark":{"type":"area","interpolate":"step-after","fill":"#6F7EB3","fillOpacity":0.45},"encoding":{"x":{"field":"t","type":"quantitative"},"y":{"field":"lo","type":"quantitative"},"y2":{"field":"hi"}}},
{"data":{"name":"d_band"},"transform":[{"filter":"datum.g == 'Non frail'"}],"mark":{"type":"area","interpolate":"step-after","fill":"#D05B5B","fillOpacity":0.45},"encoding":{"x":{"field":"t","type":"quantitative"},"y":{"field":"lo","type":"quantitative"},"y2":{"field":"hi"}}},
{"data":{"name":"d_km"},"mark":{"type":"line","interpolate":"step-after","strokeWidth":1.2},"encoding":{
"x":{"field":"t","type":"quantitative","axis":{"values":[0,3,6,9,12,15,18,21,24,30,36,42,48],"title":"PFS in months (disease progression or death)","domain":false,"grid":false,"tickSize":6,"tickColor":"#8c8c8c","labelFontSize":12.5,"labelColor":"#000","labelPadding":3,"labelFlush":false,"labelOverlap":false,"titleFontSize":12.5,"titleFontWeight":"normal","titleColor":"#000","titlePadding":8}},
"y":{"field":"s","type":"quantitative","axis":{"values":[0,0.25,0.5,0.75,1],"format":".2f","title":"Survival probability","domain":false,"grid":false,"tickSize":8,"tickColor":"#8c8c8c","labelFontSize":12,"labelColor":"#000","labelPadding":3,"labelFlush":false,"labelOverlap":false,"titleFontSize":11,"titleFontWeight":"normal","titleColor":"#000","titlePadding":14}},
"stroke":{"field":"g","type":"nominal","scale":{"domain":["Frail","Non frail"],"range":["#445694","#A23A2E"]},"legend":{"orient":"none","legendX":106,"legendY":426,"direction":"horizontal","title":"Simplified frailty scale","titleOrient":"left","titleAnchor":"middle","titleBaseline":"middle","titleFontSize":12.5,"titleFontWeight":"normal","titleColor":"#000","titlePadding":40,"labelFontSize":12.5,"labelColor":"#000","labelOffset":22,"columnPadding":10,"symbolType":"M-4,0H4","symbolSize":144,"symbolStrokeWidth":1.2,"strokeColor":"#c8c8c8","padding":2,"labelLimit":400}}}},
{"data":{"name":"d_cens"},"transform":[{"filter":"datum.g == 'Frail'"},{"calculate":"'Censured'","as":"mk"}],"mark":{"type":"point","filled":false,"size":56,"strokeWidth":1,"opacity":1,"color":"#445694"},"encoding":{"x":{"field":"t","type":"quantitative"},"y":{"field":"s","type":"quantitative"},"shape":{"field":"mk","type":"nominal","scale":{"range":["M-1,0H1M0,-1V1"]},"legend":{"orient":"top-right","offset":5,"title":null,"symbolStrokeColor":"#222","symbolFillColor":"transparent","symbolStrokeWidth":1,"symbolSize":64,"labelFontSize":12.5,"labelColor":"#000","labelOffset":3,"strokeColor":"#c8c8c8","padding":3}}}},
{"data":{"name":"d_cens"},"transform":[{"filter":"datum.g == 'Non frail'"},{"calculate":"'Censured'","as":"mk"}],"mark":{"type":"point","filled":false,"size":56,"strokeWidth":1,"opacity":1,"color":"#A23A2E"},"encoding":{"x":{"field":"t","type":"quantitative"},"y":{"field":"s","type":"quantitative"},"shape":{"field":"mk","type":"nominal","scale":{"range":["M-1,0H1M0,-1V1"]},"legend":{"orient":"top-right","offset":5,"title":null,"symbolStrokeColor":"#222","symbolFillColor":"transparent","symbolStrokeWidth":1,"symbolSize":64,"labelFontSize":12.5,"labelColor":"#000","labelOffset":3,"strokeColor":"#c8c8c8","padding":3}}}},
{"data":{"name":"d_risk"},"transform":[{"filter":"datum.g == 'Frail'"}],"mark":{"type":"text","fontSize":10.5,"color":"#5a68a6","align":"center","baseline":"middle"},"encoding":{"x":{"field":"t","type":"quantitative"},"y":{"datum":-0.0633,"type":"quantitative"},"text":{"field":"n","type":"quantitative"}}},
{"data":{"name":"d_risk"},"transform":[{"filter":"datum.g == 'Non frail'"}],"mark":{"type":"text","fontSize":10.5,"color":"#b04a40","align":"center","baseline":"middle"},"encoding":{"x":{"field":"t","type":"quantitative"},"y":{"datum":-0.1076,"type":"quantitative"},"text":{"field":"n","type":"quantitative"}}},
{"data":{"values":[{}]},"mark":{"type":"text","text":"Frail","fontSize":12.5,"color":"#5a68a6","align":"right","baseline":"middle"},"encoding":{"x":{"datum":-3.43,"type":"quantitative"},"y":{"datum":-0.0633,"type":"quantitative"}}},
{"data":{"values":[{}]},"mark":{"type":"text","text":"Non frail","fontSize":12.5,"color":"#b04a40","align":"right","baseline":"middle"},"encoding":{"x":{"datum":-3.43,"type":"quantitative"},"y":{"datum":-0.1076,"type":"quantitative"}}},
{"data":{"values":[{}]},"mark":{"type":"text","text":"Log-rank test:","font":"Liberation Serif","fontSize":18.5,"align":"left","baseline":"alphabetic","color":"#000"},"encoding":{"x":{"datum":-9.352,"type":"quantitative"},"y":{"datum":-0.5285,"type":"quantitative"}}},
{"data":{"values":[{}]},"mark":{"type":"text","text":"p","font":"Liberation Serif","fontStyle":"italic","fontSize":18.5,"align":"left","baseline":"alphabetic","color":"#000"},"encoding":{"x":{"datum":0.741,"type":"quantitative"},"y":{"datum":-0.5285,"type":"quantitative"}}},
{"data":{"values":[{}]},"mark":{"type":"text","text":"= 0.005","font":"Liberation Serif","fontSize":18.5,"align":"left","baseline":"alphabetic","color":"#000"},"encoding":{"x":{"datum":1.944,"type":"quantitative"},"y":{"datum":-0.5285,"type":"quantitative"}}}
]
}
]
}
